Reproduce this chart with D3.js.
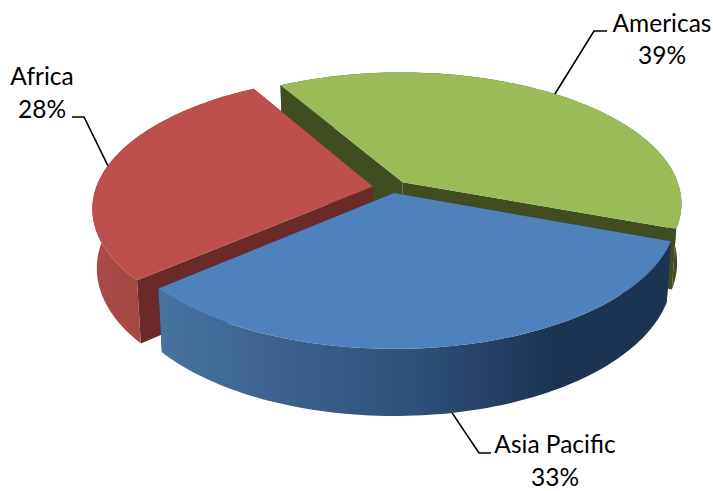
<!DOCTYPE html>
<html><head><meta charset="utf-8">
<script src="https://cdn.jsdelivr.net/npm/d3@7"></script>
<style>html,body{margin:0;padding:0;background:#fff}svg{display:block}text{font-family:Lato,"Open Sans",sans-serif;font-size:24.5px;fill:#000}</style>
</head><body><svg id="c" width="713" height="491"></svg>
<script>
const categories = ["Americas", "Asia Pacific", "Africa"];
const values = [39, 33, 28];
const explode = [0.06, 0.04, 0.07];

const tops = ["#9bbb59", "#4f81bd", "#bd4f4c"];
const cuts = ["#404c21", "#1c3352", "#6b2a2a"];
const wallStops = [
  [[0, "#404c21"], [1, "#404c21"]],
  [[0, "#47739f"], [0.5, "#2f5078"], [0.78, "#1c3352"], [1, "#1c3352"]],
  [[0, "#aa4a46"], [1, "#983f3b"]]
];
const drawOrder = [0, 2, 1];

const cx = 392, cy = 188, R = 277, S = 129, P = 0.16, D = 58, Q = 0.015;
const rad = d3.scaleLinear().domain([0, 360]).range([0, 2 * Math.PI]);
const svg = d3.select("#c");
const defs = svg.append("defs");

function pt(mid, off, a, r, z) {
  const x = r * Math.sin(a) + off * Math.sin(mid);
  const y = -r * Math.cos(a) - off * Math.cos(mid);
  const w = 1 - P * y;
  const k = 1 - Q * z;
  return [cx + R * x / w * k, cy + S * y / w * k + D * z / w];
}

const pie = d3.pie().sort(null).startAngle(rad(-30)).endAngle(rad(330));
const arcs = pie(values);
const line = d3.line();

drawOrder.forEach(i => {
  const d = arcs[i];
  const mid = (d.startAngle + d.endAngle) / 2, off = explode[i];
  const n = 90;
  const angs = d3.range(n + 1).map(j => d.startAngle + (d.endAngle - d.startAngle) * j / n);
  const topArc = angs.map(a => pt(mid, off, a, 1, 0));
  const botArc = angs.map(a => pt(mid, off, a, 1, 1));
  const apexT = pt(mid, off, 0, 0, 0), apexB = pt(mid, off, 0, 0, 1);

  const gid = "w" + i;
  const xs = topArc.map(p => p[0]);
  const g = defs.append("linearGradient").attr("id", gid).attr("gradientUnits", "userSpaceOnUse")
    .attr("x1", d3.min(xs)).attr("x2", d3.max(xs)).attr("y1", 0).attr("y2", 0);
  wallStops[i].forEach(s => g.append("stop").attr("offset", s[0]).attr("stop-color", s[1]));

  const grp = svg.append("g");
  grp.append("path").attr("d", line([apexT, topArc[0], botArc[0], apexB]) + "Z").attr("fill", cuts[i]);
  grp.append("path").attr("d", line([apexT, topArc[n], botArc[n], apexB]) + "Z").attr("fill", cuts[i]);
  grp.append("path").attr("d", line([...topArc, ...botArc.slice().reverse()]) + "Z").attr("fill", `url(#${gid})`);
  grp.append("path").attr("d", line([apexT, ...topArc]) + "Z").attr("fill", tops[i]);
});

// labels
const labels = [
  { i: 0, lines: ["Americas", "39%"], x: 662, y: [32, 64], elbow: [[594, 31], [607, 31]], nudge: -0.024, z: 0 },
  { i: 1, lines: ["Asia Pacific", "33%"], x: 555, y: [453, 486], elbow: [[479, 453], [491, 453]], nudge: 0, z: 1 },
  { i: 2, lines: ["Africa", "28%"], x: 42, y: [85, 118], elbow: [[84, 117], [72, 117]], nudge: 0, z: 0 }
];
labels.forEach(l => {
  const d = arcs[l.i], mid = (d.startAngle + d.endAngle) / 2;
  const s = pt(mid, explode[l.i], mid + l.nudge, 1, l.z);
  svg.append("path").attr("d", line([s, ...l.elbow])).attr("fill", "none").attr("stroke", "#000").attr("stroke-width", 1.6);
  l.lines.forEach((t, j) => svg.append("text").attr("x", l.x).attr("y", l.y[j]).attr("text-anchor", "middle").text(t));
});
</script></body></html>
